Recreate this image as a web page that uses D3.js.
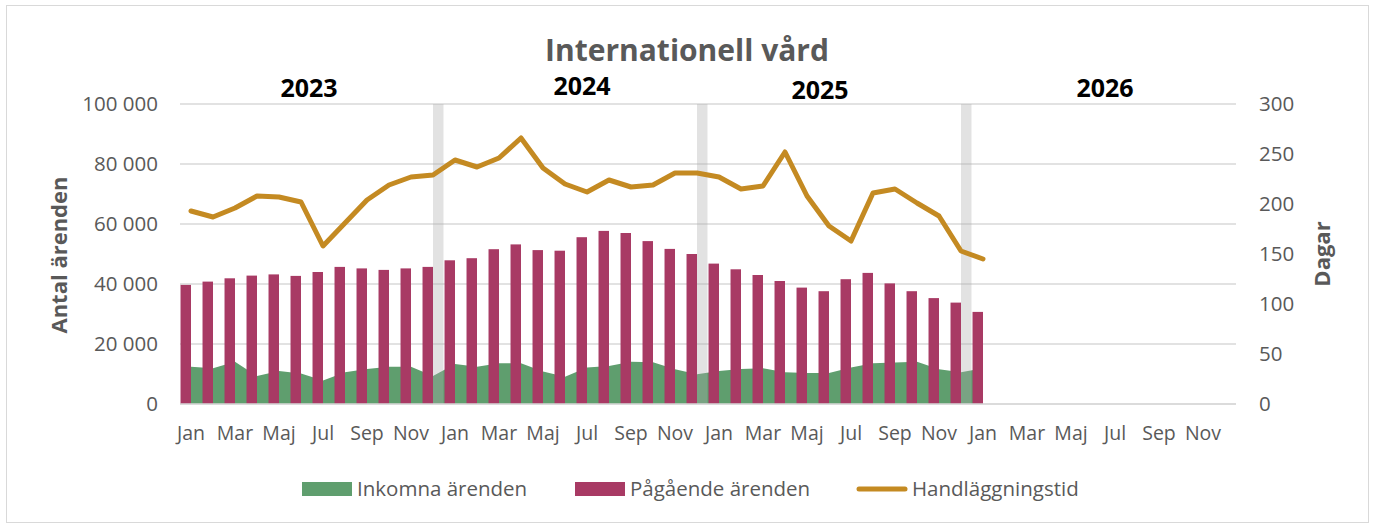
<!DOCTYPE html>
<html lang="sv">
<head>
<meta charset="UTF-8">
<title>Internationell vård</title>
<script src="https://cdn.jsdelivr.net/npm/d3@7"></script>
<style>
    body { margin: 0; background: #fff; }
    text { font-family: "Open Sans", sans-serif; }
    .axis text { fill: #595959; font-size: 20.5px; }
</style>
</head>
<body>
<script>
    var months = ["Jan", "Feb", "Mar", "Apr", "Maj", "Jun", "Jul", "Aug", "Sep", "Okt", "Nov", "Dec"];
    var years = ["2023", "2024", "2025", "2026"];

    // Pågående ärenden, jan 2023 - jan 2026
    var pagaende = [39700, 40800, 41900, 42800, 43200, 42700, 44000, 45700, 45200, 44700, 45200, 45700,
                    47900, 48600, 51600, 53200, 51300, 51100, 55600, 57700, 57000, 54300, 51700, 50000,
                    46800, 44900, 43000, 41000, 38800, 37600, 41600, 43700, 40200, 37600, 35300, 33800,
                    30700];
    // Inkomna ärenden
    var inkomna = [12400, 11900, 14100, 9300, 11000, 10200, 7800, 10600, 11700, 12400, 12400, 9300,
                   13300, 12400, 13600, 13600, 10800, 9100, 12200, 12700, 14100, 13900, 11600, 9900,
                   11000, 11700, 11900, 10600, 10300, 10300, 12200, 13600, 13800, 14100, 11600, 10600,
                   11900];
    // Handläggningstid (dagar)
    var handl = [193, 187, 196, 208, 207, 202, 158, 181, 204, 219, 227, 229,
                 244, 237, 246, 266, 236, 220, 212, 224, 217, 219, 231, 231,
                 227, 215, 218, 252, 208, 178, 163, 211, 215, 201, 188, 153,
                 145];
    // årsavdelare (grå staplar i december)
    var separator = [11, 23, 35];
    var sepValue = 100000;

    var leftTicks = [0, 20000, 40000, 60000, 80000, 100000];
    var rightTicks = [0, 50, 100, 150, 200, 250, 300];

    var width = 1375, height = 524;
    var plotLeft = 180, plotRight = 1236, plotTop = 104, plotBottom = 404;

    var cats = [];
    years.forEach(function(yr) {
        months.forEach(function(m) { cats.push(yr + "-" + m); });
    });

    var green = "#5f9e6e", crimson = "#a83a64", gold = "#c48a22", grey = "#595959";

    var sv = d3.formatLocale({decimal: ",", thousands: " ", grouping: [3], currency: ["", " kr"]});
    var fmt = sv.format(",");

    var svg = d3.select("body").append("svg")
        .attr("width", width)
        .attr("height", height);

    svg.append("rect")
        .attr("x", 6.5).attr("y", 5.5)
        .attr("width", 1362).attr("height", 517)
        .attr("fill", "#fff").attr("stroke", "#d9d9d9");

    var x = d3.scaleBand().domain(d3.range(cats.length)).range([plotLeft, plotRight]);
    var x1 = d3.scaleBand().domain(["pag", "sep"]).range([0, x.bandwidth()]).paddingOuter(0.05);
    var y = d3.scaleLinear().domain([0, 100000]).range([plotBottom, plotTop]);
    var y2 = d3.scaleLinear().domain([0, 300]).range([plotBottom, plotTop]);
    var cx = function(i) { return x(i) + x.bandwidth() / 2; };

    // stödlinjer
    svg.append("g").selectAll("line")
        .data(leftTicks)
        .enter().append("line")
        .attr("x1", plotLeft).attr("x2", plotRight)
        .attr("y1", function(d) { return y(d); })
        .attr("y2", function(d) { return y(d); })
        .attr("stroke", "#d9d9d9")
        .attr("stroke-width", 1.5);

    // vänster axel
    var yAxis = d3.axisLeft(y).tickValues(leftTicks).tickFormat(fmt).tickSize(0).tickPadding(22);
    svg.append("g").attr("class", "axis")
        .attr("transform", "translate(" + plotLeft + ",0)")
        .call(yAxis)
        .call(function(g) { g.select(".domain").remove(); });

    // höger axel
    var yAxis2 = d3.axisRight(y2).tickValues(rightTicks).tickSize(0).tickPadding(23);
    svg.append("g").attr("class", "axis")
        .attr("transform", "translate(" + plotRight + ",0)")
        .call(yAxis2)
        .call(function(g) { g.select(".domain").remove(); });

    // x-axel, varannan månad
    var xAxis = d3.axisBottom(x)
        .tickValues(d3.range(0, cats.length, 2))
        .tickFormat(function(i) { return months[i % 12]; })
        .tickSize(0).tickPadding(22);
    svg.append("g").attr("class", "axis")
        .attr("transform", "translate(0," + plotBottom + ")")
        .call(xAxis)
        .call(function(g) {
            g.select(".domain").remove();
            g.selectAll("text").style("font-size", "19.5px");
        });

    // inkomna (yta)
    var area = d3.area()
        .x(function(d, i) { return cx(i); })
        .y0(y(0))
        .y1(function(d) { return y(d); });
    svg.append("path")
        .datum(inkomna)
        .attr("d", area)
        .attr("fill", green);

    // pågående (staplar)
    svg.append("g").selectAll("rect")
        .data(pagaende)
        .enter().append("rect")
        .attr("x", function(d, i) { return x(i) + x1("pag"); })
        .attr("y", function(d) { return y(d); })
        .attr("width", x1.bandwidth())
        .attr("height", function(d) { return y(0) - y(d); })
        .attr("fill", crimson);

    // årsavdelare
    svg.append("g").selectAll("rect")
        .data(separator)
        .enter().append("rect")
        .attr("x", function(i) { return x(i) + x1("sep"); })
        .attr("y", y(sepValue))
        .attr("width", x1.bandwidth())
        .attr("height", y(0) - y(sepValue))
        .attr("fill", "#adadad")
        .attr("opacity", 0.35);

    // x-axelns linje
    svg.append("line")
        .attr("x1", plotLeft).attr("x2", plotRight)
        .attr("y1", plotBottom).attr("y2", plotBottom)
        .attr("stroke", "#d9d9d9").attr("stroke-width", 1.5);

    // handläggningstid (linje)
    var line = d3.line()
        .x(function(d, i) { return cx(i); })
        .y(function(d) { return y2(d); });
    svg.append("path")
        .datum(handl)
        .attr("d", line)
        .attr("fill", "none")
        .attr("stroke", gold)
        .attr("stroke-width", 5)
        .attr("stroke-linejoin", "round")
        .attr("stroke-linecap", "round");

    // rubrik
    svg.append("text")
        .attr("x", 687).attr("y", 61)
        .attr("text-anchor", "middle")
        .attr("fill", grey)
        .style("font-size", "30px").style("font-weight", "bold")
        .text("Internationell vård");

    // årtal ovanför varje år
    var yearNudge = [-3, 6, -20, 1], yearBase = [97, 95, 99, 97];
    svg.append("g").selectAll("text")
        .data(years)
        .enter().append("text")
        .attr("x", function(d, i) { return x(i * 12) + 6 * x.bandwidth() + yearNudge[i]; })
        .attr("y", function(d, i) { return yearBase[i]; })
        .attr("text-anchor", "middle")
        .attr("fill", "#000")
        .style("font-size", "25px").style("font-weight", "bold")
        .text(function(d) { return d; });

    // axeltitlar
    svg.append("text")
        .attr("transform", "translate(67,255) rotate(-90)")
        .attr("text-anchor", "middle")
        .attr("fill", grey)
        .style("font-size", "22px").style("font-weight", "bold")
        .text("Antal ärenden");
    svg.append("text")
        .attr("transform", "translate(1330,254) rotate(-90)")
        .attr("text-anchor", "middle")
        .attr("fill", grey)
        .style("font-size", "22px").style("font-weight", "bold")
        .text("Dagar");

    // förklaring
    var legend = svg.append("g").attr("class", "axis");
    var leg = [
        {name: "Inkomna ärenden", type: "rect", color: green, x: 302},
        {name: "Pågående ärenden", type: "rect", color: crimson, x: 575},
        {name: "Handläggningstid", type: "line", color: gold, x: 857}
    ];
    leg.forEach(function(d) {
        if (d.type === "rect") {
            legend.append("rect").attr("x", d.x).attr("y", 482)
                .attr("width", 50).attr("height", 14).attr("fill", d.color);
        } else {
            legend.append("line").attr("x1", d.x + 2).attr("x2", d.x + 48)
                .attr("y1", 489).attr("y2", 489)
                .attr("stroke", d.color).attr("stroke-width", 5).attr("stroke-linecap", "round");
        }
        legend.append("text").attr("x", d.x + 55).attr("y", 496)
            .style("font-size", "20.5px")
            .text(d.name);
    });
</script>
</body>
</html>
